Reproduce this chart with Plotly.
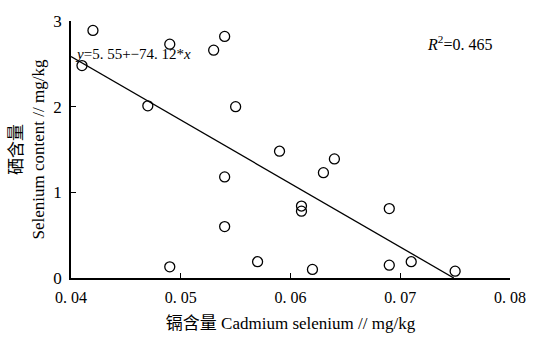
import plotly.graph_objects as go

cd = [0.041, 0.042, 0.049, 0.047, 0.053, 0.054, 0.055, 0.054, 0.054, 0.049,
      0.057, 0.059, 0.061, 0.061, 0.063, 0.064, 0.062, 0.069, 0.069, 0.071, 0.075]
se = [2.48, 2.89, 2.73, 2.01, 2.66, 2.82, 2.00, 1.18, 0.60, 0.13,
      0.19, 1.48, 0.84, 0.78, 1.23, 1.39, 0.10, 0.81, 0.15, 0.19, 0.08]
intercept = 5.55
slope = -74.12
fit_x = [0.04, -intercept / slope]
fit_y = [intercept + slope * v for v in fit_x]
xticks = [0.04, 0.05, 0.06, 0.07, 0.08]
xticklabels = ["0. 04", "0. 05", "0. 06", "0. 07", "0. 08"]
yticks = [0, 1, 2, 3]

SERIF = "Liberation Serif, DejaVu Serif, Noto Sans CJK SC"

fig = go.Figure()
fig.add_trace(go.Scatter(x=fit_x, y=fit_y, mode="lines",
                         line=dict(color="black", width=1.3), showlegend=False))
fig.add_trace(go.Scatter(x=cd, y=se, mode="markers",
                         marker=dict(symbol="circle-open", size=10, color="black",
                                     line=dict(width=1.3)), showlegend=False))

fig.add_annotation(x=0.0402, y=2.62, xref="x", yref="y", xanchor="left",
                   text="<i>y</i>=5. 55+−74. 12*<i>x</i>", showarrow=False,
                   font=dict(family=SERIF, size=15, color="black"))
fig.add_annotation(x=0.0754, y=2.74, xref="x", yref="y", xanchor="center",
                   text="<i>R</i><sup>2</sup>=0. 465", showarrow=False,
                   font=dict(family=SERIF, size=16, color="black"))

fig.update_layout(
    width=538, height=342,
    margin=dict(l=71, r=17, t=15, b=64),
    paper_bgcolor="white", plot_bgcolor="white",
    font=dict(family=SERIF, size=16, color="black"),
    xaxis=dict(range=[0.04, 0.08], tickvals=xticks, ticktext=xticklabels,
               ticks="inside", ticklen=5, tickwidth=1.3, tickcolor="black",
               showline=True, linecolor="black", linewidth=1.5,
               showgrid=False, zeroline=False, tickfont=dict(size=16),
               ticklabelstandoff=4,
               title=dict(text="镉含量 Cadmium selenium // mg/kg", standoff=12,
                          font=dict(family=SERIF, size=17))),
    yaxis=dict(range=[0, 3], tickvals=yticks,
               ticks="inside", ticklen=5, tickwidth=1.3, tickcolor="black",
               showline=True, linecolor="black", linewidth=1.5,
               showgrid=False, zeroline=False, tickfont=dict(size=17),
               ticklabelstandoff=4,
               title=dict(text="硒含量<br>Selenium content // mg/kg", standoff=4,
                          font=dict(family=SERIF, size=17))),
)

fig.write_html("out.html")
